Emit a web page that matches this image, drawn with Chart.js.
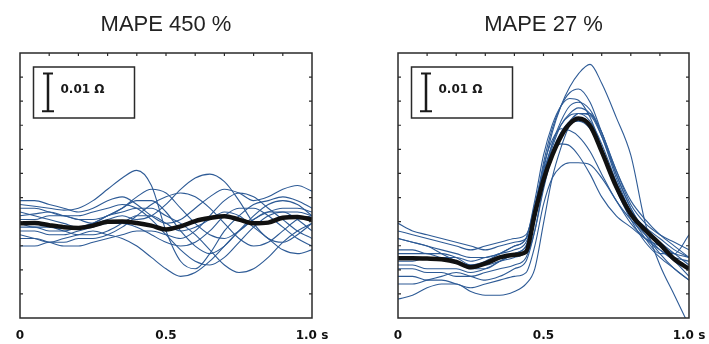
<!DOCTYPE html>
<html>
<head>
<meta charset="utf-8">
<script src="https://cdn.jsdelivr.net/npm/chart.js@4.4.1/dist/chart.umd.min.js"></script>
<style>
  html, body { margin: 0; padding: 0; background: #fff; }
  canvas { position: absolute; top: 0; }
  #chartLeft { left: 0; }
  #chartRight { left: 354px; }
</style>
</head>
<body>
<canvas id="chartLeft" width="354" height="344"></canvas>
<canvas id="chartRight" width="355" height="344"></canvas>
<script>
// time in s, impedance values in mΩ
const leftTimes = [0, 0.05, 0.1, 0.15, 0.2, 0.25, 0.3, 0.35, 0.4, 0.45, 0.5, 0.55, 0.6, 0.65, 0.7, 0.75, 0.8, 0.85, 0.9, 0.95, 1.0];
const leftMean = [-10.0, -9.9, -10.5, -11.0, -11.2, -10.6, -9.6, -9.5, -9.9, -10.6, -11.6, -10.8, -9.4, -8.6, -8.1, -9.0, -10.0, -9.8, -8.5, -8.3, -9.0];
const leftTraces = [
  [-5, -5.5, -6, -6.5, -6, -4, -1, 2, 4, 0, -12, -20, -22, -18, -12, -8, -5, -4, -3, -4, -6],
  [-8, -7.5, -7, -8, -9, -10, -9, -8, -9, -8, -5, -1, 2, 3, 1, -4, -10, -14, -15, -13, -10],
  [-13, -14, -15, -14, -13, -12, -13, -14, -16, -19, -22, -24, -23, -20, -16, -12, -9, -7, -6, -6, -7],
  [-4, -4, -5, -6, -7, -6, -4, -3, -5, -8, -10, -9, -6, -3, -1, -2, -4, -3, -1, 0, -1.5],
  [-11, -11, -12, -12, -11, -10, -8, -7, -6, -6, -8, -10, -13, -17, -21, -23, -22, -19, -15, -12, -10],
  [-16, -16, -15, -15, -14, -14, -13, -11, -8, -5, -3, -2, -3, -6, -10, -14, -16, -15, -12, -9, -8],
  [-7, -8, -9, -10, -11, -10, -8, -6, -4, -4, -7, -12, -16, -18, -16, -12, -8, -5, -4, -5, -8],
  [-12, -12, -13, -13, -12, -11, -10, -10, -11, -13, -15, -16, -15, -12, -8, -6, -6, -8, -11, -14, -16],
  [-9, -9, -8, -8, -9, -9, -8, -6, -3, -1, -2, -6, -10, -13, -14, -12, -9, -7, -7, -9, -12],
  [-14, -14, -15, -16, -16, -15, -14, -13, -12, -12, -13, -14, -12, -8, -4, -2, -3, -6, -9, -12, -14],
  [-6, -6, -7, -8, -8, -7, -6, -5, -6, -9, -13, -17, -20, -21, -19, -15, -11, -8, -7, -7, -8],
  [-10, -11, -11, -12, -13, -13, -12, -10, -8, -8, -10, -12, -11, -9, -7, -8, -11, -14, -17, -18, -17]
];

const rightTimes = [0, 0.05, 0.1, 0.15, 0.2, 0.25, 0.3, 0.35, 0.4, 0.44, 0.47, 0.5, 0.53, 0.56, 0.59, 0.62, 0.66, 0.7, 0.75, 0.8, 0.85, 0.9, 0.95, 1.0];
const rightMean = [-19.2, -19.2, -19.3, -19.5, -20.2, -21.6, -20.6, -19.0, -18.3, -17.5, -7.5, 1.5, 8.0, 13.0, 16.3, 17.7, 15.8, 9.0, -0.3, -7.5, -11.8, -15.5, -19.5, -22.0];
const rightTraces = [
  [-14, -15, -16, -17, -18, -19, -19, -18, -17, -15, -8, 4, 14, 21, 26, 29.5, 32, 27, 18, 8, -10, -21, -29, -37],
  [-12, -13, -14, -15, -16, -17, -16, -15, -14, -13, -6, 6, 15, 21, 24.5, 25.5, 22, 14, 4, -4, -9, -13, -16, -19],
  [-18, -18, -18, -19, -19, -20, -19, -18, -16, -14, -4, 8, 16, 21, 23, 22.5, 18, 10, 0, -7, -11, -14, -17, -19],
  [-10, -12, -13, -14, -15, -16, -17, -16, -15, -14, -9, 2, 11, 17, 21, 22, 20, 14, 4, -5, -10, -13, -15, -17],
  [-22, -22, -23, -23, -24, -24, -23, -22, -21, -19, -12, -1, 8, 14, 17, 19, 18.5, 13, 3, -6, -12, -15, -18, -21],
  [-20, -20, -19, -19, -20, -21, -21, -20, -19, -17, -7, 5, 12, 15, 14.5, 13, 9, 3, -4, -9, -13, -17, -20, -24],
  [-24, -24, -25, -25, -26, -27, -26, -25, -24, -23, -16, -5, 2, 5, 6, 6, 5.5, 2, -4, -10, -14, -17, -19, -20],
  [-17, -17, -18, -18, -19, -21, -20, -18, -16, -14, -5, 4, 9, 11, 10.5, 8, 3, -3, -8, -11, -14, -16, -18, -19],
  [-30, -29, -27, -26, -26, -28, -29, -29, -28, -26, -22, -10, 2, 10, 16, 19, 19, 13, 2, -7, -13, -18, -22, -25],
  [-14, -15, -16, -18, -20, -22, -22, -20, -18, -16, -9, 3, 11, 16, 18.5, 19, 17, 11, 1, -8, -14, -18, -18, -13],
  [-26, -26, -25, -24, -23, -24, -25, -24, -22, -20, -12, 0, 9, 14, 16.5, 17, 15, 9, -1, -9, -15, -19, -22, -25],
  [-21, -21, -22, -22, -22, -23, -22, -20, -18, -16, -8, 2, 10, 16, 19, 20.5, 19, 14, 3, -6, -12, -16, -19, -22]
];

const xTickValues = [0, 0.5, 1];
const xTickLabels = ['0', '0.5', '1.0 s'];
const scaleBarValue = 10; // 10 mΩ
const scaleBarLabel = '0.01 Ω';

const framePlugin = {
  id: 'frame',
  afterDatasetsDraw(chart) {
    const { ctx, chartArea: a, scales: { x, y } } = chart;
    ctx.save();
    ctx.strokeStyle = '#2a2a2a';
    ctx.lineWidth = 1.5;
    ctx.strokeRect(a.left, a.top, a.right - a.left, a.bottom - a.top);

    // inward tick marks
    ctx.lineWidth = 1.2;
    ctx.beginPath();
    x.ticks.forEach(t => {
      const px = x.getPixelForValue(t.value);
      if (px <= a.left + 2 || px >= a.right - 2) return;
      ctx.moveTo(px, a.top);
      ctx.lineTo(px, a.top + 3);
    });
    y.ticks.forEach(t => {
      const py = y.getPixelForValue(t.value);
      if (py <= a.top + 2 || py >= a.bottom - 2) return;
      ctx.moveTo(a.left, py);
      ctx.lineTo(a.left + 3, py);
      ctx.moveTo(a.right, py);
      ctx.lineTo(a.right - 3, py);
    });
    ctx.stroke();

    // scale bar box
    const bx = a.left + 13.5, by = a.top + 14;
    ctx.fillStyle = '#fff';
    ctx.fillRect(bx, by, 101, 51);
    ctx.lineWidth = 1.5;
    ctx.strokeRect(bx, by, 101, 51);

    const len = y.getPixelForValue(0) - y.getPixelForValue(scaleBarValue);
    const cx = bx + 14.5, top = by + 6.5;
    ctx.strokeStyle = '#1a1a1a';
    ctx.lineWidth = 2.5;
    ctx.beginPath();
    ctx.moveTo(cx, top);
    ctx.lineTo(cx, top + len);
    ctx.stroke();
    ctx.lineWidth = 2;
    ctx.beginPath();
    ctx.moveTo(cx - 5, top);
    ctx.lineTo(cx + 5, top);
    ctx.moveTo(cx - 6, top + len);
    ctx.lineTo(cx + 6, top + len);
    ctx.stroke();

    ctx.fillStyle = '#1a1a1a';
    ctx.font = 'bold 12px "DejaVu Sans", sans-serif';
    ctx.textBaseline = 'middle';
    ctx.fillText(scaleBarLabel, bx + 27, by + 23);
    ctx.restore();
  }
};

function xLabel(v) {
  const i = xTickValues.findIndex(t => Math.abs(t - v) < 1e-6);
  return i < 0 ? '' : xTickLabels[i];
}

function makeChart(id, title, times, mean, traces, padLeft, padRight) {
  const toPts = vals => vals.map((v, i) => ({ x: times[i], y: v }));
  const datasets = [{ data: toPts(mean), borderColor: '#111', borderWidth: 4.5 }]
    .concat(traces.map(t => ({ data: toPts(t), borderColor: '#2e5b96', borderWidth: 1.1 })));

  new Chart(document.getElementById(id), {
    type: 'line',
    data: { datasets: datasets },
    options: {
      responsive: false,
      animation: false,
      layout: { padding: { left: padLeft, right: padRight, top: 0, bottom: 0 } },
      elements: {
        point: { radius: 0 },
        line: { cubicInterpolationMode: 'monotone' }
      },
      plugins: {
        legend: { display: false },
        tooltip: { enabled: false },
        title: {
          display: true,
          text: title,
          color: '#222',
          font: { family: '"Liberation Sans", Arial, sans-serif', size: 22, weight: 'normal', lineHeight: 1.2 },
          padding: { top: 11.8, bottom: 14.8 }
        }
      },
      scales: {
        x: {
          type: 'linear',
          min: 0,
          max: 1,
          afterFit: s => {
            s.height = 26;
            s.paddingLeft = 0;
            s.paddingRight = 0;
          },
          grid: { display: false, drawTicks: false },
          border: { display: false },
          ticks: {
            stepSize: 0.1,
            autoSkip: false,
            maxRotation: 0,
            padding: 11,
            color: '#111',
            font: { family: '"DejaVu Sans", sans-serif', size: 12, weight: 'bold' },
            callback: v => xLabel(v)
          }
        },
        y: {
          min: -35,
          max: 35,
          grid: { display: false, drawTicks: false },
          border: { display: false },
          ticks: { display: false, stepSize: 70 / 11 }
        }
      }
    },
    plugins: [framePlugin]
  });
}

makeChart('chartLeft', 'MAPE 450 %', leftTimes, leftMean, leftTraces, 20, 42);
makeChart('chartRight', 'MAPE 27 %', rightTimes, rightMean, rightTraces, 44, 20);
</script>
</body>
</html>
